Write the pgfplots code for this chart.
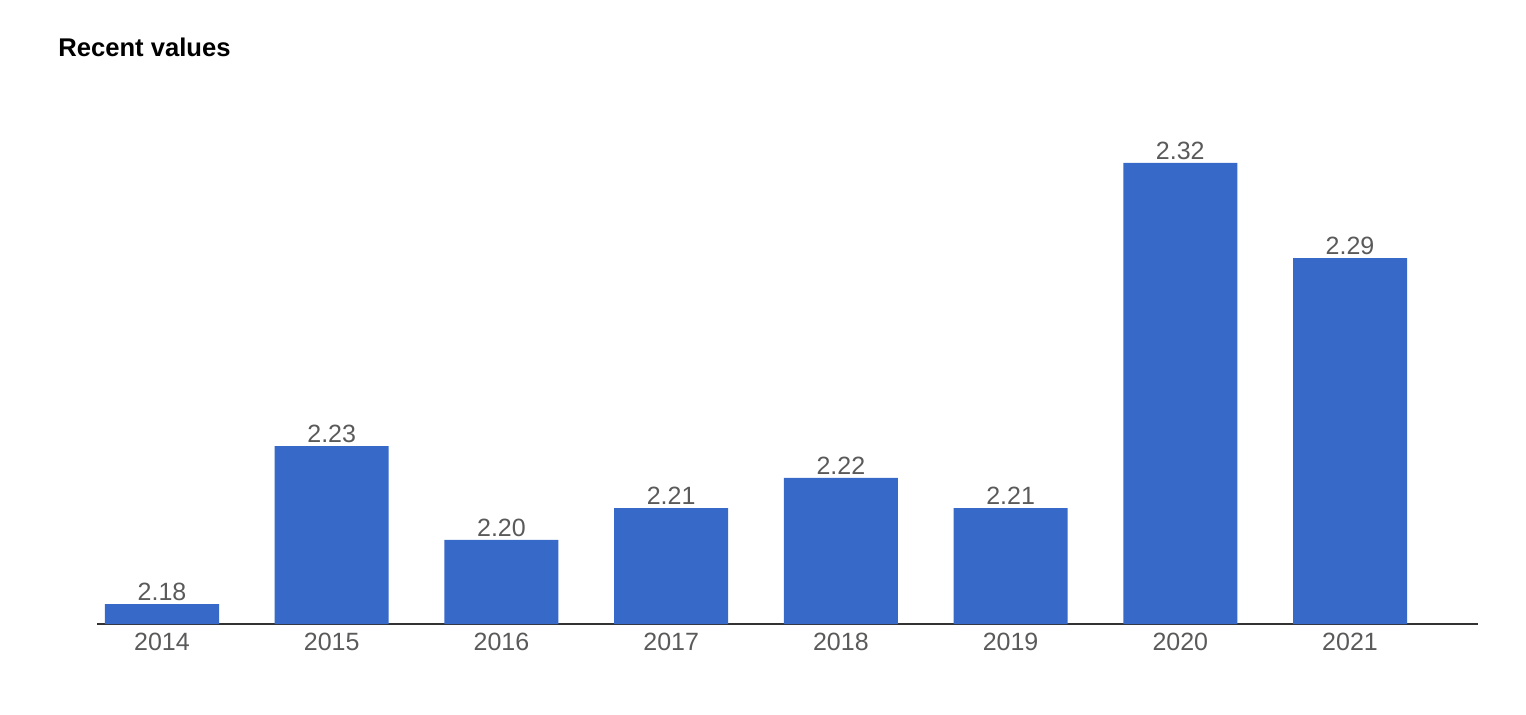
\documentclass[border=0pt]{standalone}
\usepackage{fontspec}
\setmainfont{Liberation Sans}
\usepackage{pgfplots}
\pgfplotsset{compat=1.18}
\definecolor{barblue}{HTML}{3769C9}
\definecolor{labelgray}{HTML}{5A5A5A}
\definecolor{axisgray}{HTML}{333333}
\begin{document}
\begin{tikzpicture}
\useasboundingbox (0,0) rectangle (763pt,357pt);
\node[anchor=base west, inner sep=0pt, font=\bfseries\fontsize{12.8}{15}\selectfont] at (29pt,328.5pt) {Recent values};
\begin{axis}[
    at={(48.5pt,45pt)}, anchor=south west,
    scale only axis,
    width=690.5pt, height=262pt,
    xmin=-0.383, xmax=7.754,
    ymin=2.174, ymax=2.3398,
    axis x line*=bottom,
    axis y line=none,
    x axis line style={axisgray, line width=0.9pt, -},
    xtick={0,...,7},
    xticklabels={2014,2015,2016,2017,2018,2019,2020,2021},
    major tick length=0pt,
    xticklabel style={font=\fontsize{12.5}{14}\selectfont, text=labelgray, yshift=-1pt},
    /pgf/number format/assume math mode=true,
    ymajorticks=false,
    ybar, bar width=0.672, bar shift=0pt,
    nodes near coords,
    nodes near coords style={font=\fontsize{12.5}{14}\selectfont, text=labelgray,
        /pgf/number format/fixed, /pgf/number format/fixed zerofill,
        /pgf/number format/precision=2, inner sep=1.5pt},
    clip=false,
]
\addplot[fill=barblue, draw=none] coordinates {
    (0,2.1803) (1,2.2303) (2,2.2006) (3,2.2107)
    (4,2.2202) (5,2.2107) (6,2.3199) (7,2.2898)
};
\end{axis}
\end{tikzpicture}
\end{document}
